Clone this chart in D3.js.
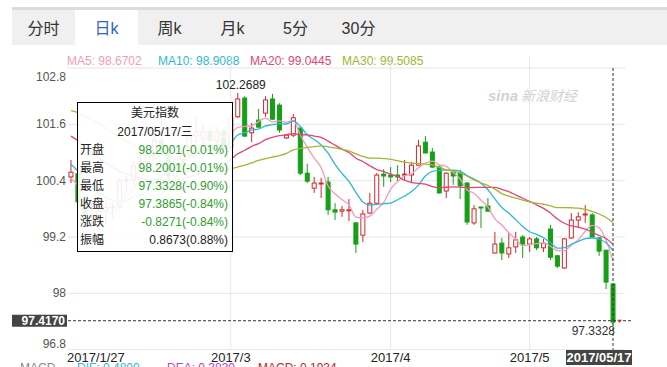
<!DOCTYPE html>
<html>
<head>
<meta charset="utf-8">
<script src="https://cdn.jsdelivr.net/npm/d3@7"></script>
<style>
body { margin: 0; background: #fff; }
svg { display: block; font-family: Arial, "Liberation Sans", "Noto Sans CJK SC", sans-serif; }
</style>
</head>
<body>
<svg id="kline"></svg>
<script>
const width = 667;
const height = 367;

// tabs and legend
const tabs = ["分时", "日k", "周k", "月k", "5分", "30分"];
const maNames = ["MA5", "MA10", "MA20", "MA30"];
const maLegend = [98.6702, 98.9088, 99.0445, 99.5085];
const maColors = ["#f29bbf", "#30b8d2", "#e0457a", "#a3b532"];

// trading days 2017/01/27 - 2017/05/17
const dates = [
  "2017/01/27","2017/01/30","2017/01/31",
  "2017/02/01","2017/02/02","2017/02/03","2017/02/06","2017/02/07","2017/02/08","2017/02/09","2017/02/10",
  "2017/02/13","2017/02/14","2017/02/15","2017/02/16","2017/02/17","2017/02/20","2017/02/21","2017/02/22",
  "2017/02/23","2017/02/24","2017/02/27","2017/02/28",
  "2017/03/01","2017/03/02","2017/03/03","2017/03/06","2017/03/07","2017/03/08","2017/03/09","2017/03/10",
  "2017/03/13","2017/03/14","2017/03/15","2017/03/16","2017/03/17","2017/03/20","2017/03/21","2017/03/22",
  "2017/03/23","2017/03/24","2017/03/27","2017/03/28","2017/03/29","2017/03/30","2017/03/31",
  "2017/04/03","2017/04/04","2017/04/05","2017/04/06","2017/04/07","2017/04/10","2017/04/11","2017/04/12",
  "2017/04/13","2017/04/14","2017/04/17","2017/04/18","2017/04/19","2017/04/20","2017/04/21","2017/04/24",
  "2017/04/25","2017/04/26","2017/04/27","2017/04/28",
  "2017/05/01","2017/05/02","2017/05/03","2017/05/04","2017/05/05","2017/05/08","2017/05/09","2017/05/10",
  "2017/05/11","2017/05/12","2017/05/15","2017/05/16","2017/05/17"
];

const opens = [
  100.48, 100.55, 99.95,
  99.55, 99.6, 99.75, 99.83, 99.84, 100.4, 100.42, 100.72,
  100.8, 100.95, 101.25, 101.0, 100.5, 100.85, 100.95, 101.35,
  101.3, 101.45, 101.25, 101.45,
  101.12, 101.76, 102.16, 101.42, 101.69, 101.84, 102.14, 102.01,
  101.31, 101.37, 101.52, 100.56, 100.24, 100.34, 100.37, 99.78,
  99.75, 99.77, 99.5, 99.24, 99.71, 99.92, 100.54,
  100.52, 100.52, 100.53, 100.52, 100.73, 101.22, 101.01, 100.69,
  100.18, 100.58, 100.56, 100.35, 99.5, 99.84, 99.86, 98.86,
  99.07, 98.84, 98.99, 99.2,
  99.05, 99.16, 98.97, 99.37, 98.8, 98.54, 99.18, 99.56,
  99.68, 99.67, 99.18, 98.92, 98.2001
];
const highs = [
  100.84, 100.6, 100.1,
  99.95, 99.8, 100.0, 99.95, 100.45, 100.55, 100.8, 100.95,
  101.1, 101.4, 101.75, 101.1, 100.95, 101.05, 101.5, 101.75,
  101.6, 101.55, 101.55, 101.5,
  101.85, 102.2689, 102.2, 101.63, 101.93, 102.2, 102.25, 102.05,
  101.39, 101.82, 101.54, 100.76, 100.48, 100.46, 100.48, 99.92,
  99.86, 100.01, 99.52, 99.78, 100.14, 100.56, 100.65,
  100.69, 100.73, 100.84, 100.8, 101.27, 101.35, 101.1, 100.73,
  100.58, 100.63, 100.63, 100.37, 99.88, 99.84, 100.03, 99.31,
  99.18, 99.29, 99.31, 99.24,
  99.2, 99.2, 99.16, 99.46, 98.82, 99.18, 99.71, 99.73,
  99.88, 99.71, 99.2, 98.92, 98.2001
];
const lows = [
  100.35, 99.85, 99.4,
  99.45, 99.23, 99.45, 99.6, 99.8, 100.15, 100.3, 100.6,
  100.7, 100.85, 100.95, 100.4, 100.45, 100.75, 100.9, 101.2,
  101.1, 101.05, 101.15, 101.0,
  101.05, 101.74, 101.33, 101.22, 101.53, 101.76, 101.69, 101.42,
  101.29, 101.33, 100.52, 100.35, 100.14, 100.03, 99.67, 99.56,
  99.63, 99.54, 98.86, 99.09, 99.69, 99.91, 100.27,
  100.37, 100.37, 100.41, 100.37, 100.71, 100.98, 100.67, 100.12,
  100.03, 100.31, 100.01, 99.46, 99.46, 99.39, 99.75, 98.85,
  98.71, 98.75, 98.86, 98.75,
  98.88, 98.92, 98.88, 98.71, 98.54, 98.52, 99.16, 99.39,
  99.5, 99.19, 98.8, 98.09, 97.3328
];
const closes = [
  100.58, 99.95, 99.55,
  99.6, 99.75, 99.83, 99.84, 100.4, 100.42, 100.72, 100.8,
  100.95, 101.25, 101.0, 100.5, 100.85, 100.95, 101.35, 101.45,
  101.45, 101.25, 101.45, 101.1,
  101.74, 102.14, 101.35, 101.52, 101.54, 102.12, 101.71, 101.48,
  101.37, 101.74, 100.56, 100.39, 100.35, 100.35, 99.78, 99.73,
  99.78, 99.78, 99.05, 99.69, 99.92, 100.52, 100.5,
  100.48, 100.48, 100.54, 100.73, 101.14, 100.99, 100.69, 100.14,
  100.56, 100.5, 100.29, 99.52, 99.8, 99.82, 99.75, 99.05,
  98.86, 98.97, 99.14, 99.05,
  99.16, 98.97, 99.07, 98.77, 98.58, 99.16, 99.56, 99.63,
  99.69, 99.2, 98.9, 98.24, 97.3865
];

// MA values before a full window is available
const ma5Head = [100.45, 100.3, 100.1, 99.95];
const ma10Head = [100.75, 100.6, 100.42, 100.28, 100.15, 100.05, 99.98, 99.95, 99.97];
const ma20Head = [101.35, 101.25, 101.12, 101.0, 100.88, 100.78, 100.68, 100.6, 100.55, 100.5,
  100.45, 100.42, 100.42, 100.42, 100.4, 100.42, 100.45, 100.48, 100.52];
const ma30Head = [101.89, 101.85, 101.78, 101.7, 101.62, 101.52, 101.42, 101.33, 101.24, 101.15,
  101.06, 100.98, 100.9, 100.82, 100.75, 100.7, 100.66, 100.63, 100.61, 100.6,
  100.6, 100.61, 100.62, 100.65, 100.69, 100.73, 100.78, 100.83, 100.87];

const yTicks = [102.8, 101.6, 100.4, 99.2, 98, 96.8];
const xTicks = ["2017/03/01", "2017/04/03", "2017/05/01"];
const xTickLabels = ["2017/3", "2017/4", "2017/5"];
const firstLabel = "2017/1/27";
const lastPrice = 97.4170;
const maxHigh = 102.2689;

const tipTitle = "美元指数";
const tipDate = "2017/05/17/三";
const tipRows = ["开盘", "最高", "最低", "收盘", "涨跌", "振幅"];
const tipValues = ["98.2001(-0.01%)", "98.2001(-0.01%)", "97.3328(-0.90%)", "97.3865(-0.84%)", "-0.8271(-0.84%)", "0.8673(0.88%)"];

const macdNames = ["MACD", "DIF: 0.4800", "DEA: 0.3830", "MACD: 0.1934"];

const svg = d3.select("svg#kline");
svg.attr("width", width).attr("height", height);

const margin = {top: 68, bottom: 17.3, left: 68, right: 42};
const plotBottom = height - margin.bottom;
const plotRight = width - margin.right;

const data = dates.map((d, i) => ({date: d, open: opens[i], high: highs[i], low: lows[i], close: closes[i]}));

// scales
const x = d3.scaleBand()
  .domain(dates)
  .range([67.5, 616.5])
  .paddingInner(0.28)
  .paddingOuter(0.14);
const cx = d => x(d) + x.bandwidth() / 2;

const y = d3.scaleLinear()
  .domain([96.8, 102.8])
  .range([plotBottom, margin.top]);

// ---- tab bar ----
const tabX = d3.scaleBand().domain(tabs).range([12, 12 + 63 * tabs.length]);
svg.append("rect").attr("x", 12).attr("y", 7).attr("width", width - 12).attr("height", 3).attr("fill", "#dcdcdc");
svg.append("rect").attr("x", 12).attr("y", 10).attr("width", width - 12).attr("height", 35).attr("fill", "#f0f0f0");
svg.append("rect").attr("x", tabX("日k")).attr("y", 10).attr("width", tabX.bandwidth()).attr("height", 35).attr("fill", "#fff");
svg.append("g").selectAll("text")
  .data(tabs)
  .enter().append("text")
    .attr("x", d => tabX(d) + tabX.bandwidth() / 2)
    .attr("y", 34)
    .attr("text-anchor", "middle")
    .style("font-size", "16px")
    .attr("fill", d => d == "日k" ? "#2f66c0" : "#333")
    .text(d => d);

// ---- MA legend ----
const legendX = [67, 158, 250, 342];
svg.append("g").selectAll("text")
  .data(maNames)
  .enter().append("text")
    .attr("x", (d, i) => legendX[i])
    .attr("y", 65)
    .style("font-size", "12px")
    .attr("fill", (d, i) => maColors[i])
    .text((d, i) => d + ": " + maLegend[i].toFixed(4));

// ---- grid ----
const grid = svg.append("g").attr("id", "grid");
grid.selectAll("line.h")
  .data(yTicks)
  .enter().append("line")
    .attr("x1", margin.left).attr("x2", plotRight)
    .attr("y1", d => y(d)).attr("y2", d => y(d))
    .attr("stroke", "#e6e6e6");
grid.selectAll("line.v")
  .data(xTicks)
  .enter().append("line")
    .attr("x1", d => cx(d)).attr("x2", d => cx(d))
    .attr("y1", 56).attr("y2", plotBottom)
    .attr("stroke", "#e6e6e6");

// y labels
svg.append("g").selectAll("text")
  .data(yTicks)
  .enter().append("text")
    .attr("x", 66)
    .attr("y", (d, i) => y(d) + (i == 0 ? 13 : i == yTicks.length - 1 ? -2 : 4))
    .attr("text-anchor", "end")
    .style("font-size", "12px")
    .attr("fill", "#555")
    .text(d => d);

// x labels
svg.append("text")
  .attr("x", margin.left - 1).attr("y", 362)
  .style("font-size", "13px").attr("fill", "#222")
  .text(firstLabel);
svg.append("g").selectAll("text")
  .data(xTicks)
  .enter().append("text")
    .attr("x", d => cx(d))
    .attr("y", 362)
    .attr("text-anchor", "middle")
    .style("font-size", "13px")
    .attr("fill", "#222")
    .text((d, i) => xTickLabels[i]);

// watermark
const wm = svg.append("g").attr("fill", "#d2d2d2").style("font-style", "italic");
wm.append("text").attr("x", 488).attr("y", 101).style("font-size", "15px").style("font-weight", "bold").text("sina");
wm.append("text").attr("x", 521).attr("y", 101).style("font-size", "14px").text("新浪财经");

// ---- candles ----
const up = "#d4262b";
const down = "#15a015";
const candles = svg.append("g").attr("id", "candles")
  .selectAll("g")
  .data(data)
  .enter().append("g");
candles.append("line")
  .attr("x1", d => cx(d.date)).attr("x2", d => cx(d.date))
  .attr("y1", d => y(d.high)).attr("y2", d => y(d.low))
  .attr("stroke", d => d.close >= d.open ? up : down);
candles.append("rect")
  .attr("x", d => x(d.date) + 0.5)
  .attr("y", d => y(Math.max(d.open, d.close)))
  .attr("width", x.bandwidth() - 1)
  .attr("height", d => Math.max(1, Math.abs(y(d.open) - y(d.close))))
  .attr("fill", d => d.close >= d.open ? "#fff" : down)
  .attr("stroke", d => d.close >= d.open ? up : down);

// ---- moving averages ----
function movingAvg(n, head) {
  return closes.map((c, i) => i < n - 1 ? head[i] : d3.mean(closes.slice(i - n + 1, i + 1)));
}
const maSeries = [movingAvg(5, ma5Head), movingAvg(10, ma10Head), movingAvg(20, ma20Head), movingAvg(30, ma30Head)];
const line = d3.line()
  .x((d, i) => cx(dates[i]))
  .y(d => y(d))
  .curve(d3.curveMonotoneX);
svg.append("g").attr("id", "ma")
  .selectAll("path")
  .data(maSeries)
  .enter().append("path")
    .attr("d", line)
    .attr("fill", "none")
    .attr("stroke", (d, i) => maColors[i])
    .attr("stroke-width", 1.3);

// max label
const maxDay = data.find(d => d.high == maxHigh);
svg.append("text")
  .attr("x", cx(maxDay.date) + 3).attr("y", y(maxHigh) - 4)
  .attr("text-anchor", "middle")
  .style("font-size", "12px").attr("fill", "#222")
  .text(maxHigh.toFixed(4));

// ---- crosshair ----
const last = data[data.length - 1];
svg.append("line")
  .attr("x1", cx(last.date)).attr("x2", cx(last.date))
  .attr("y1", margin.top).attr("y2", plotBottom)
  .attr("stroke", "#333").attr("stroke-dasharray", "3,2");
svg.append("line")
  .attr("x1", margin.left).attr("x2", 632)
  .attr("y1", y(lastPrice)).attr("y2", y(lastPrice))
  .attr("stroke", "#333").attr("stroke-dasharray", "3,2");
svg.append("path")
  .attr("d", `M${cx(last.date) + 4},${y(lastPrice) - 1}h5l-2.5,3z`)
  .attr("fill", up);

svg.append("rect").attr("x", 12).attr("y", y(lastPrice) - 6).attr("width", 55).attr("height", 12).attr("fill", "#444");
svg.append("text")
  .attr("x", 65).attr("y", y(lastPrice) + 4.5)
  .attr("text-anchor", "end")
  .style("font-size", "12px").style("font-weight", "bold").attr("fill", "#fff")
  .text(lastPrice.toFixed(4));

svg.append("text")
  .attr("x", cx(last.date) + 2).attr("y", y(last.low) + 10)
  .attr("text-anchor", "end")
  .style("font-size", "12px").attr("fill", "#333")
  .text(last.low.toFixed(4));

svg.append("rect").attr("x", 566).attr("y", 350).attr("width", 66).attr("height", 15).attr("fill", "#444");
svg.append("text")
  .attr("x", 599).attr("y", 362)
  .attr("text-anchor", "middle")
  .style("font-size", "13px").style("font-weight", "bold").attr("fill", "#fff")
  .text(last.date);

// MACD legend (cut off at the bottom)
const macdX = [20, 77, 167, 258];
const macdColors = ["#888", "#30b8d2", "#c03fc0", "#c81e1e"];
svg.append("g").selectAll("text")
  .data(macdNames)
  .enter().append("text")
    .attr("x", (d, i) => macdX[i])
    .attr("y", 372)
    .style("font-size", "12px")
    .attr("fill", (d, i) => macdColors[i])
    .text(d => d);

// ---- tooltip ----
const tip = svg.append("g").attr("id", "tooltip");
tip.append("rect")
  .attr("x", 77.5).attr("y", 102.5).attr("width", 155).attr("height", 149)
  .attr("fill", "#fff").attr("fill-opacity", 0.9)
  .attr("stroke", "#000");
tip.append("text").attr("x", 155).attr("y", 117).attr("text-anchor", "middle")
  .style("font-size", "12px").attr("fill", "#222").text(tipTitle);
tip.append("text").attr("x", 155).attr("y", 136).attr("text-anchor", "middle")
  .style("font-size", "12px").attr("fill", "#222").text(tipDate);
const rows = tip.selectAll("g.row")
  .data(tipRows)
  .enter().append("g");
rows.append("text")
  .attr("x", 80).attr("y", (d, i) => 154 + i * 18)
  .style("font-size", "12px").attr("fill", "#222")
  .text(d => d);
rows.append("text")
  .attr("x", 228).attr("y", (d, i) => 154 + i * 18)
  .attr("text-anchor", "end")
  .style("font-size", "12px")
  .attr("fill", (d, i) => i < 5 ? "#2e9e2e" : "#222")
  .text((d, i) => tipValues[i]);
</script>
</body>
</html>
